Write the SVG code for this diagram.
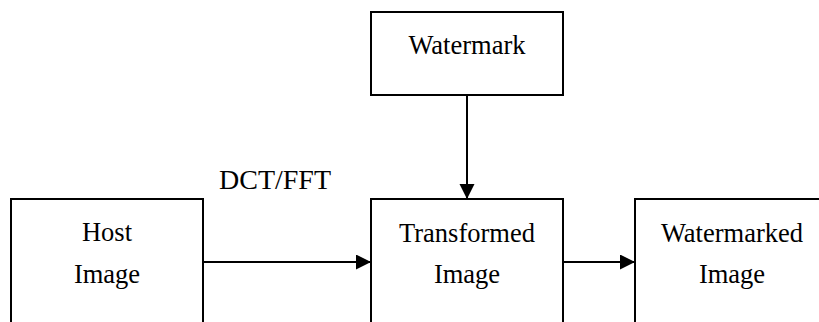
<svg xmlns="http://www.w3.org/2000/svg" width="819" height="322" viewBox="0 0 819 322">
<style>
.box{fill:#fff;stroke:#000;stroke-width:2}
.t{font-family:"Liberation Serif","Times New Roman",serif;font-size:26.5px;fill:#000;text-anchor:middle}
.c{stroke:#000;stroke-width:2;fill:none}
</style>
<defs>
<marker id="ah" markerUnits="userSpaceOnUse" markerWidth="16" markerHeight="16" refX="15" refY="7.5" orient="auto">
<path d="M0,0 L15,7.5 L0,15 Z" fill="#000"/>
</marker>
</defs>
<rect width="819" height="322" fill="#fff"/>
<g id="watermark">
<rect class="box" x="371" y="12" width="192" height="83"/>
<text class="t" x="467" y="54">Watermark</text>
</g>
<g id="host">
<rect class="box" x="11" y="199" width="192" height="140"/>
<text class="t" x="107" y="241">Host</text>
<text class="t" x="107" y="283">Image</text>
</g>
<g id="transformed">
<rect class="box" x="371" y="199" width="192" height="140"/>
<text class="t" x="467" y="242">Transformed</text>
<text class="t" x="467" y="283">Image</text>
</g>
<g id="watermarked">
<rect class="box" x="635" y="199" width="194" height="140"/>
<text class="t" x="732" y="242">Watermarked</text>
<text class="t" x="732" y="283">Image</text>
</g>
<g id="connectors">
<line class="c" x1="467" y1="95" x2="467" y2="199" marker-end="url(#ah)"/>
<line class="c" x1="203" y1="262" x2="371" y2="262" marker-end="url(#ah)"/>
<line class="c" x1="563" y1="262" x2="635" y2="262" marker-end="url(#ah)"/>
<text style="font-family:'Liberation Serif','Times New Roman',serif;font-size:28px;fill:#000" x="219" y="189">DCT/FFT</text>
</g>
</svg>
